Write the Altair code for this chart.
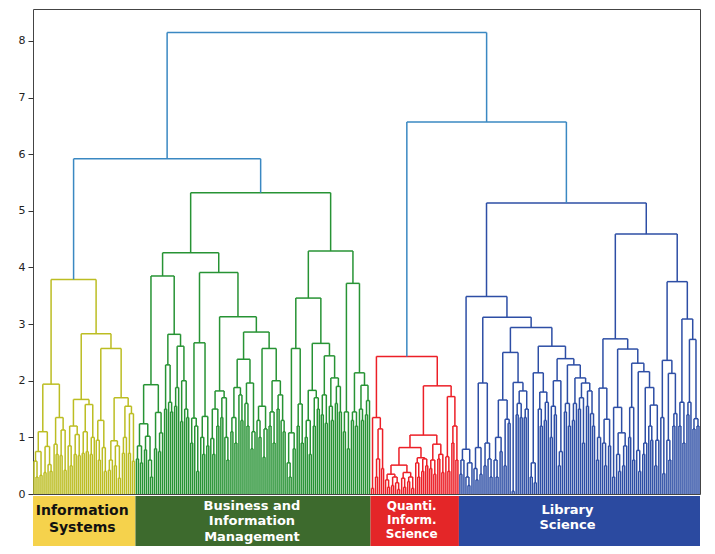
import altair as alt
import pandas as pd

# ---------------- tree data: node = [merge height, left, right]; 0 = leaf ----------------
info_systems = [3.79,
    [1.94,
        [1.10, [0.75, [0.58, 0, [0.3, 0, 0]], [0.33, 0, 0]], [0.84, [0.38, 0, 0], [0.52, 0, [0.4, 0, 0]]]],
        [1.35, [0.88, 0, [0.7, 0, 0]], [1.13, [0.68, 0, 0], [0.42, 0, 0]]]],
    [2.83,
        [1.67, [1.2, [0.85, 0, [0.5, 0, 0]], [1.05, [0.7, 0, 0], [0.68, 0, 0]]],
               [1.58, [1.1, [0.72, 0, 0], [0.75, 0, 0]], [1.0, [0.7, 0, 0], 0]]],
        [2.57, [1.3, [0.95, 0, [0.6, 0, 0]], [0.82, 0, [0.4, 0, 0]]],
               [1.70, [0.94, [0.6, [0.42, 0, 0], 0], [0.85, [0.5, 0, 0], [0.28, 0, 0]]],
                      [1.55, [1.0, [0.72, 0, 0], 0], [1.42, [0.72, 0, 0], [0.58, 0, 0]]]]]]]

business = [5.32,
    [4.26,
        [3.85,
            [1.93, [1.24, [0.85, [0.62, 0, 0], [0.55, 0, 0]], [1.02, [0.78, 0, 0], [0.6, 0, [0.3, 0, 0]]]],
                   [1.44, [0.8, 0, 0], [1.08, [0.75, 0, 0], 0]]],
            [2.82, [2.28, [1.5, 0, 0], [1.62, 0, [1.45, 0, 0]]],
                   [2.61, [1.88, [1.55, 0, 0], 0], [2.0, [1.28, 0, 0], [1.5, 0, [1.35, 0, 0]]]]]],
        [3.91,
            [2.67, [1.34, [0.9, 0, 0], [1.2, 0, [0.4, 0, 0]]], [1.37, [1.0, 0, [0.7, 0, 0]], [0.85, 0, 0]]],
            [3.13,
                [1.82, [1.5, [0.98, 0, [0.7, 0, 0]], [1.2, 0, 0]], [1.7, [1.35, 0, 0], [1.0, 0, [0.6, 0, 0]]]],
                [2.86,
                    [2.38, [1.88, [1.35, [1.1, 0, 0], [0.9, 0, 0]], [1.75, 0, [1.3, 0, 0]]],
                           [1.96, [1.6, 0, [1.2, 0, 0]], [1.1, [0.8, 0, 0], 0]]],
                    [2.57, [1.55, [1.3, 0, [1.0, 0, 0]], [1.15, [0.65, 0, 0], 0]],
                           [2.0, [1.45, [1.2, 0, 0], [0.9, 0, 0]], [1.75, [1.5, 0, 0], [1.3, 0, [1.1, 0, 0]]]]]]]]],
    [4.29,
        [3.46,
            [2.57, [1.08, [0.55, 0, [0.3, 0, 0]], [0.8, 0, 0]], [1.59, [1.2, 0, 0], [0.9, 0, 0]]],
            [2.66, [1.83, [1.3, [1.0, 0, 0], [0.7, 0, 0]], [1.7, [1.2, 0, 0], [1.5, 0, 0]]],
                   [2.44, [1.75, [1.4, 0, 0], [1.25, 0, 0]],
                          [2.05, [1.55, 0, [1.3, 0, 0]], [1.9, [1.6, 0, 0], [1.45, 0, 0]]]]]],
        [3.72, [1.45, [1.1, 0, 0], [0.8, 0, 0]],
               [2.14, [1.45, [1.3, 0, 0], [1.2, 0, 0]], [1.92, [1.5, 0, [1.3, 0, 0]], [1.65, [1.4, 0, 0], 0]]]]]]

quanti = [2.43,
    [1.35, [0.1, 0, 0], [1.15, [0.62, [0.3, 0, 0], 0], [0.45, 0, 0]]],
    [1.91,
        [1.04,
            [0.82,
                [0.51, [0.35, [0.25, 0, [0.12, 0, 0]], [0.3, [0.15, 0, 0], [0.2, 0, [0.08, 0, 0]]]],
                       [0.38, [0.28, 0, [0.12, 0, 0]], [0.3, [0.22, 0, 0], [0.1, 0, 0]]]],
                [0.64, [0.55, 0, [0.3, 0, 0]], [0.62, [0.4, 0, 0], [0.5, 0, 0]]]],
            [0.88, [0.6, [0.45, 0, 0], [0.35, 0, 0]], [0.7, [0.62, 0, 0], [0.38, 0, 0]]]],
        [1.72, [0.66, 0, [0.4, 0, 0]], [1.2, [0.9, 0, 0], [0.6, 0, 0]]]]]

library = [5.14,
    [3.49,
        [0.79, [0.6, [0.35, 0, 0], 0], [0.55, [0.3, 0, [0.15, 0, 0]], 0]],
        [3.12,
            [1.96, [0.82, [0.45, 0, [0.25, 0, 0]], [0.35, 0, 0]], [0.9, [0.5, 0, 0], [0.62, 0, [0.3, 0, 0]]]],
            [2.94,
                [2.50, [1.66, [1.0, [0.6, 0, [0.3, 0, 0]], [0.75, 0, 0]], [1.32, [0.5, 0, 0], [1.25, 0, 0]]],
                       [1.97, [0.05, 0, 0], [1.82, [1.6, [1.4, 0, 0], [1.35, 0, 0]], [1.5, [1.35, 0, 0], 0]]]],
                [2.61, [2.14, [0.55, [0.3, 0, 0], [0.2, 0, 0]], [1.8, [1.5, 0, [1.2, 0, 0]], [1.62, [1.3, 0, 0], 0]]],
                       [2.39, [2.0, [1.55, [1.0, 0, 0], [1.4, 0, 0]], [0.75, [0.5, 0, 0], 0]],
                              [2.28, [1.6, [1.45, 0, 0], [1.2, 0, 0]],
                                     [2.05, [1.6, [1.3, 0, 0], 0],
                                            [1.96, [1.7, [1.5, 0, 0], [0.9, 0, 0]],
                                                   [1.82, [1.55, 0, 0], [1.42, 0, [1.2, 0, 0]]]]]]]]]]],
    [4.59,
        [2.74,
            [1.87, [1.0, [0.6, 0, 0], 0], [1.32, [0.9, 0, [0.5, 0, 0]], [0.85, 0, 0]]],
            [2.56, [1.53, [0.3, 0, 0], [1.08, [0.7, 0, [0.4, 0, 0]], [0.85, [0.5, 0, 0], 0]]],
                   [2.31, [1.53, [1.0, 0, 0], [0.6, 0, 0]],
                          [2.16, [0.77, 0, [0.4, 0, 0]],
                                 [1.88, [0.9, [0.7, 0, 0], 0],
                                        [1.57, [1.2, 0, [0.95, 0, 0]], [0.95, [0.5, 0, 0], 0]]]]]]],
        [3.75,
            [2.36, [1.35, 0, [0.36, 0, 0]], [2.13, [0.95, 0, [0.6, 0, 0]], [1.42, [1.2, 0, 0], 0]]],
            [3.09, [1.62, [1.2, 0, 0], [0.9, 0, 0]],
                   [2.73, [1.62, [1.4, 0, 0], 0], [1.33, [1.15, 0, 0], [1.2, 0, 0]]]]]]]

cluster_names = ["Information Systems", "Business and Information Management",
                 "Quanti. Inform. Science", "Library Science"]
cluster_trees = [info_systems, business, quanti, library]
cluster_labels = ["Information\nSystems", "Business and\nInformation\nManagement",
                  "Quanti.\nInform.\nScience", "Library\nScience"]
upper_merges = [5.92, 6.57, 8.15]   # IS+BIM, QIS+LS, root

# ---------------- styles ----------------
line_colors = ["#bcbd22", "#279334", "#ec1f27", "#2d4ea5", "#3a88c2"]
band_colors = ["#f5d24c", "#3d6a2d", "#e42628", "#2b4aa0"]
text_styles = [  # color, font size, line height, first-line y (px), dx (px)
    ("#111111", 14, 17, 502, -2),
    ("#ffffff", 13, 15.4, 497, -1),
    ("#ffffff", 12, 14.2, 497, -3),
    ("#ffffff", 13, 15.4, 501, -12),
]

# ---------------- layout of the dendrogram ----------------
segs = []
counter = [0]


def add(x, y, x2, y2, g):
    segs.append({"x": x, "y": y, "x2": x2, "y2": y2, "group": g})


def walk(node, g):
    if node == 0:
        x = float(counter[0])
        counter[0] += 1
        return x, 0.0
    h, a, b = node
    xa, ha = walk(a, g)
    xb, hb = walk(b, g)
    add(xa, ha, xa, h, g)
    add(xa, h, xb, h, g)
    add(xb, hb, xb, h, g)
    return (xa + xb) / 2, h


def join(p, q, h, g):
    add(p[0], p[1], p[0], h, g)
    add(p[0], h, q[0], h, g)
    add(q[0], q[1], q[0], h, g)
    return ((p[0] + q[0]) / 2, h)


tops = []
bands = []
for name, tree, lab in zip(cluster_names, cluster_trees, cluster_labels):
    start = counter[0]
    tops.append(walk(tree, name))
    end = counter[0] - 1
    bands.append({"cluster": name, "x0": start - 0.5, "x1": end + 0.5,
                  "xm": (start + end) / 2, "label": lab})

left = join(tops[0], tops[1], upper_merges[0], "above")
right = join(tops[2], tops[3], upper_merges[1], "above")
join(left, right, upper_merges[2], "above")

N = counter[0]
seg_df = pd.DataFrame(segs)
band_df = pd.DataFrame(bands)

xscale = alt.Scale(domain=[-0.5, N - 0.5], nice=False, zero=False)
yscale = alt.Scale(domain=[0, 8.565], nice=False, zero=False)

links = alt.Chart(seg_df).mark_rule(strokeWidth=1.5).encode(
    x=alt.X("x:Q", scale=xscale, axis=None),
    x2="x2:Q",
    y=alt.Y("y:Q", scale=yscale,
            axis=alt.Axis(values=list(range(9)), title=None, grid=False, domain=False,
                          tickSize=5, labelPadding=3, labelFontSize=11, labelColor="#222",
                          tickColor="#333", labelFont="DejaVu Sans")),
    y2="y2:Q",
    stroke=alt.Stroke("group:N",
                      scale=alt.Scale(domain=cluster_names + ["above"], range=line_colors),
                      legend=None),
)

rects = alt.Chart(band_df).mark_rect().encode(
    x=alt.X("x0:Q", scale=xscale, axis=None),
    x2="x1:Q",
    y=alt.value(487),
    y2=alt.value(537),
    fill=alt.Fill("cluster:N", scale=alt.Scale(domain=cluster_names, range=band_colors), legend=None),
)

text_layers = []
for name, (col, fs, lh, ty, dx) in zip(cluster_names, text_styles):
    text_layers.append(
        alt.Chart(band_df).transform_filter(alt.datum.cluster == name).mark_text(
            font="DejaVu Sans", fontWeight="bold", lineBreak="\n", baseline="middle",
            align="center", lineHeight=lh, fontSize=fs, color=col, dx=dx,
        ).encode(
            x=alt.X("xm:Q", scale=xscale, axis=None),
            y=alt.value(ty),
            text="label:N",
        )
    )

chart = alt.layer(links, rects, *text_layers).properties(
    width=667, height=485,
    padding={"left": 10, "top": 1, "right": 5, "bottom": 5},
).configure_view(stroke="#444", strokeWidth=1)

chart.save("out.html", embed_options={"renderer": "svg", "actions": False})
